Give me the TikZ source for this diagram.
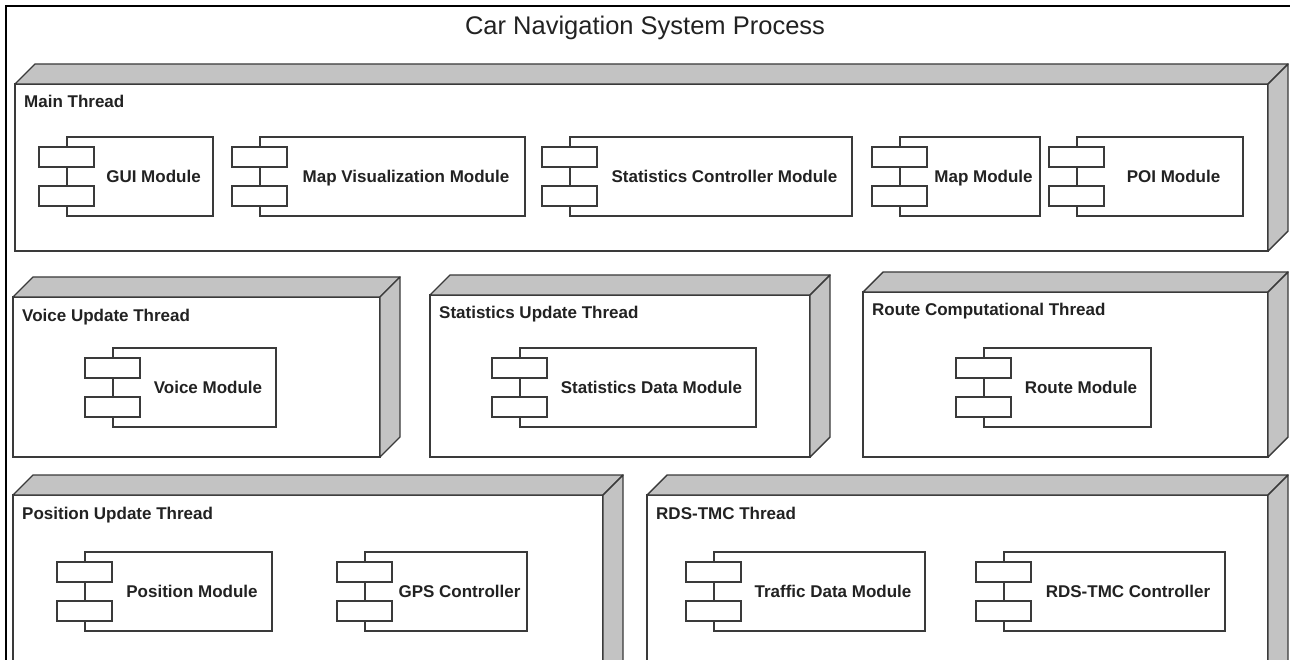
\documentclass[tikz,border=0pt]{standalone}
\usepackage{fontspec}
\setmainfont{Liberation Sans}
\definecolor{linegray}{HTML}{3A3A3A}
\definecolor{facegray}{HTML}{C3C3C3}
\definecolor{textgray}{HTML}{222222}

% A thread: front face as a named node, with a grey top face and right face
\newcommand\threadbox[6]{%
  \node[frontface, minimum width={#4-#2}, minimum height={#5-#3}, anchor=north west] (#1) at (#2,#3) {};
  \filldraw[sideface] (#1.north west) -- ++(20,-20) -- ++({#4-#2},0) -- (#1.north east) -- cycle;
  \filldraw[sideface] (#1.north east) -- ++(20,-20) -- ++(0,{#5-#3}) -- (#1.south east) -- cycle;
  \node[threadlabel, anchor=base west] (#1-title) at ({#2+9},{#3+24}) {#6};
}

% A UML component: body with two tabs on its left edge and a centred name
\newcommand\component[6]{%
  \node[compbox, minimum width={#4-#2}, minimum height={#5-#3}, anchor=north west] (#1) at (#2,#3) {};
  \node[tabbox, anchor=north west] (#1-a) at ({#2-28},{#3+10}) {};
  \node[tabbox, anchor=north west] (#1-b) at ({#2-28},{#3+49}) {};
  \node[complabel, anchor=base] (#1-title) at ({(#2+27+#4)/2},{(#3+#5)/2+6}) {#6};
}

\begin{document}
\begin{tikzpicture}[
  x=1pt, y=-1pt,
  frame/.style={draw=black, line width=1.5pt},
  frontface/.style={rectangle, draw=linegray, line width=1.4pt, fill=white, inner sep=0pt, outer sep=0pt},
  sideface/.style={draw=linegray, line width=1.4pt, fill=facegray, line join=round},
  threadlabel/.style={font=\fontsize{17}{20}\selectfont\bfseries, text=textgray, inner sep=0pt},
  compbox/.style={rectangle, draw=linegray, line width=1.2pt, fill=white, inner sep=0pt, outer sep=0pt},
  tabbox/.style={compbox, minimum width=55, minimum height=20},
  complabel/.style={font=\fontsize{17}{20}\selectfont\bfseries, text=textgray, inner sep=0pt},
  titlestyle/.style={font=\fontsize{25.5}{30}\selectfont, text=textgray, inner sep=0pt}
]
\useasboundingbox (0,0) rectangle (1290,660);
\clip (0,0) rectangle (1290,660);

% outer process frame
\draw[frame] (6,700) -- (6,6) -- (1320,6);
\node[titlestyle, anchor=base] (title) at (645,35) {Car Navigation System Process};

% threads
\threadbox{main}{15}{84}{1268}{251}{Main Thread}
\threadbox{voice}{13}{297}{380}{457}{Voice Update Thread}
\threadbox{stats}{430}{295}{810}{457}{Statistics Update Thread}
\threadbox{route}{863}{292}{1268}{457}{Route Computational Thread}
\threadbox{position}{13}{495}{603}{690}{Position Update Thread}
\threadbox{rds}{647}{495}{1268}{690}{RDS-TMC Thread}

% components of the main thread
\component{gui}{67}{137}{213}{216}{GUI Module}
\component{mapvis}{260}{137}{525}{216}{Map Visualization Module}
\component{statctrl}{570}{137}{852}{216}{Statistics Controller Module}
\component{map}{900}{137}{1040}{216}{Map Module}
\component{poi}{1077}{137}{1243}{216}{POI Module}

% components of the second row
\component{voicemod}{113}{348}{276}{427}{Voice Module}
\component{statdata}{520}{348}{756}{427}{Statistics Data Module}
\component{routemod}{984}{348}{1151}{427}{Route Module}

% components of the third row
\component{posmod}{85}{552}{272}{631}{Position Module}
\component{gps}{365}{552}{527}{631}{GPS Controller}
\component{traffic}{714}{552}{925}{631}{Traffic Data Module}
\component{rdsctrl}{1004}{552}{1225}{631}{RDS-TMC Controller}
\end{tikzpicture}
\end{document}
